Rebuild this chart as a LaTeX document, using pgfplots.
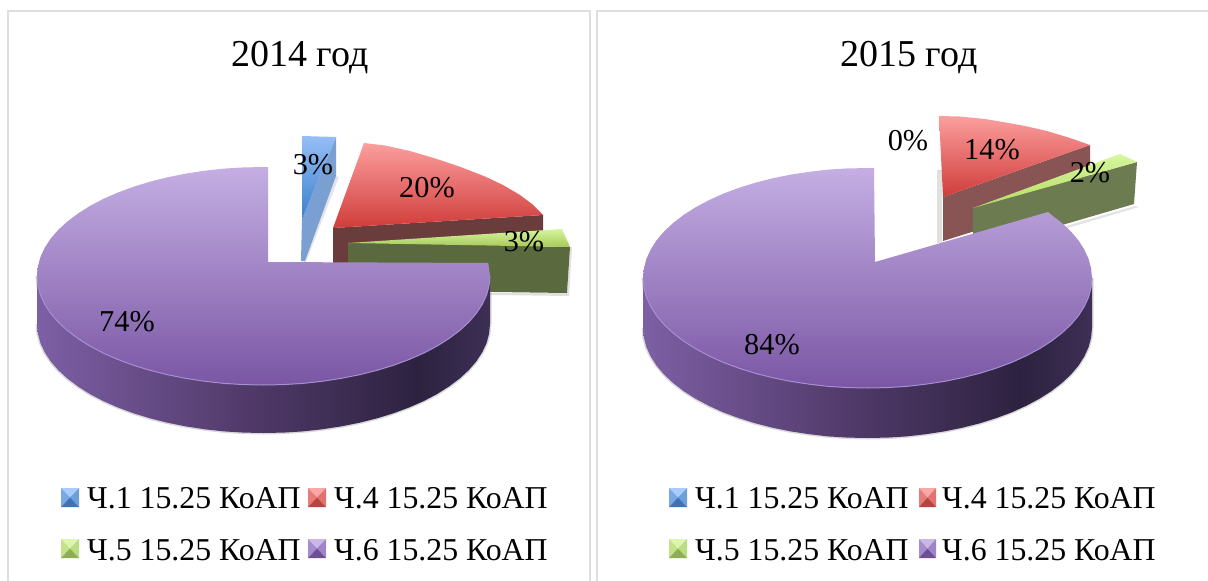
\documentclass[border=0pt]{standalone}
\usepackage{pgfplots}
\usepackage{fontspec}
\pgfplotsset{compat=1.18}
\setmainfont{Liberation Serif}
\definecolor{brd}{HTML}{DEDEDE}
\definecolor{P1}{HTML}{7D5FA5}
\definecolor{P2}{HTML}{513A6A}
\definecolor{P3}{HTML}{2D2240}
\definecolor{P4}{HTML}{3D2F55}
\pgfdeclarehorizontalshading{purpleside}{100bp}{color(0bp)=(P1);color(25bp)=(P1);color(48bp)=(P2);color(67bp)=(P3);color(75bp)=(P4);color(100bp)=(P4)}
\definecolor{redsideA}{RGB}{107,60,60}
\definecolor{redsideB}{RGB}{137,84,84}
\definecolor{redtop}{RGB}{252,158,158}
\definecolor{redbot}{RGB}{208,60,58}
\definecolor{grnsideA}{RGB}{90,106,62}
\definecolor{grnsideB}{RGB}{108,123,80}
\definecolor{grntop}{RGB}{214,246,156}
\definecolor{grnbotA}{RGB}{166,200,90}
\definecolor{grnbotB}{RGB}{180,220,100}
\definecolor{bluside}{RGB}{122,159,211}
\definecolor{blutop}{RGB}{150,190,246}
\definecolor{blubot}{RGB}{58,128,204}
\definecolor{purtop}{RGB}{196,174,227}
\definecolor{purbot}{RGB}{122,86,164}
\definecolor{purline}{RGB}{166,143,208}
\pgfplotstableread{
37 276
37.9 285.5
40.4 295
44.7 304.2
50.6 313.3
58.2 322.1
67.4 330.5
78 338.5
90.0 346.1
103.3 353.1
117.9 359.5
133.6 365.3
150.3 370.4
167.8 374.8
186.0 378.4
204.9 381.3
224.1 383.4
243.7 384.6
263.5 385
283.3 384.6
302.9 383.4
322.1 381.3
341.0 378.4
359.2 374.8
376.8 370.4
393.4 365.3
409.1 359.5
423.7 353.1
437.0 346.1
449 338.5
459.7 330.5
468.8 322.1
476.4 313.3
482.3 304.2
486.6 295
489.1 285.5
490 276
}\frontA
\pgfplotstableread{
37 276
37.9 285.5
40.4 295
44.7 304.2
50.6 313.3
58.2 322.1
67.4 330.5
78 338.5
90.0 346.1
103.3 353.1
117.9 359.5
133.6 365.3
150.3 370.4
167.8 374.8
186.0 378.4
204.9 381.3
224.1 383.4
243.7 384.6
263.5 385
283.3 384.6
302.9 383.4
322.1 381.3
341.0 378.4
359.2 374.8
376.8 370.4
393.4 365.3
409.1 359.5
423.7 353.1
437.0 346.1
449 338.5
459.7 330.5
468.8 322.1
476.4 313.3
482.3 304.2
486.6 295
489.1 285.5
490 276
490 324
489.1 333.5
486.6 343
482.3 352.2
476.4 361.3
468.8 370.1
459.7 378.5
449 386.5
437 394.1
423.7 401.1
409.1 407.5
393.4 413.3
376.8 418.4
359.2 422.8
341 426.4
322.1 429.3
302.9 431.4
283.3 432.6
263.5 433
243.7 432.6
224.1 431.4
204.9 429.3
186 426.4
167.8 422.8
150.3 418.4
133.6 413.3
117.9 407.5
103.3 401.1
90 394.1
78 386.5
67.4 378.5
58.2 370.1
50.6 361.3
44.7 352.2
40.4 343
37.9 333.5
37 324
}\sideA
\pgfplotstableread{
268 262
268 167
243.7 167.4
224.1 168.6
204.9 170.7
186.0 173.6
167.8 177.2
150.3 181.6
133.6 186.7
117.9 192.5
103.3 198.9
90.0 205.9
78 213.5
67.4 221.5
58.2 229.9
50.6 238.7
44.7 247.8
40.4 257.0
37.9 266.5
37 276
37.9 285.5
40.4 295
44.7 304.2
50.6 313.3
58.2 322.1
67.4 330.5
78 338.5
90.0 346.1
103.3 353.1
117.9 359.5
133.6 365.3
150.3 370.4
167.8 374.8
186.0 378.4
204.9 381.3
224.1 383.4
243.7 384.6
263.5 385
283.3 384.6
302.9 383.4
322.1 381.3
341.0 378.4
359.2 374.8
376.8 370.4
393.4 365.3
409.1 359.5
423.7 353.1
437.0 346.1
449 338.5
459.7 330.5
468.8 322.1
476.4 313.3
482.3 304.2
486.6 295
489.1 285.5
490 276
488.3 263
}\topA
\pgfplotstableread{
643 278
643.9 287.6
646.4 297.1
650.7 306.5
656.5 315.6
664 324.5
673.1 333
683.6 341.1
695.5 348.7
708.8 355.8
723.1 362.3
738.7 368.1
755.3 373.3
772.6 377.7
790.7 381.4
809.4 384.2
828.4 386.4
847.9 387.6
867.5 388
887.1 387.6
906.6 386.4
925.6 384.2
944.3 381.4
962.4 377.7
979.8 373.3
996.3 368.1
1011.9 362.3
1026.2 355.8
1039.5 348.7
1051.4 341.1
1061.9 333
1071 324.5
1078.5 315.6
1084.3 306.5
1088.6 297.1
1091.1 287.6
1092 278
}\frontB
\pgfplotstableread{
643 278
643.9 287.6
646.4 297.1
650.7 306.5
656.5 315.6
664 324.5
673.1 333
683.6 341.1
695.5 348.7
708.8 355.8
723.1 362.3
738.7 368.1
755.3 373.3
772.6 377.7
790.7 381.4
809.4 384.2
828.4 386.4
847.9 387.6
867.5 388
887.1 387.6
906.6 386.4
925.6 384.2
944.3 381.4
962.4 377.7
979.8 373.3
996.3 368.1
1011.9 362.3
1026.2 355.8
1039.5 348.7
1051.4 341.1
1061.9 333
1071 324.5
1078.5 315.6
1084.3 306.5
1088.6 297.1
1091.1 287.6
1092 278
1092 328
1091.1 337.6
1088.6 347.1
1084.3 356.5
1078.5 365.6
1071 374.5
1061.9 383
1051.4 391.1
1039.5 398.7
1026.2 405.8
1011.9 412.3
996.3 418.1
979.8 423.3
962.4 427.7
944.3 431.4
925.6 434.2
906.6 436.4
887.1 437.6
867.5 438
847.9 437.6
828.4 436.4
809.4 434.2
790.7 431.4
772.6 427.7
755.3 423.3
738.7 418.1
723.1 412.3
708.8 405.8
695.5 398.7
683.6 391.1
673.1 383
664 374.5
656.5 365.6
650.7 356.5
646.4 347.1
643.9 337.6
643 328
}\sideB
\pgfplotstableread{
875 262
874 168
847.9 168.4
828.4 169.6
809.4 171.8
790.7 174.6
772.6 178.3
755.3 182.7
738.7 187.9
723.1 193.7
708.8 200.2
695.5 207.3
683.6 214.9
673.1 223
664 231.5
656.5 240.4
650.7 249.5
646.4 258.9
643.9 268.4
643 278
643.9 287.6
646.4 297.1
650.7 306.5
656.5 315.6
664 324.5
673.1 333
683.6 341.1
695.5 348.7
708.8 355.8
723.1 362.3
738.7 368.1
755.3 373.3
772.6 377.7
790.7 381.4
809.4 384.2
828.4 386.4
847.9 387.6
867.5 388
887.1 387.6
906.6 386.4
925.6 384.2
944.3 381.4
962.4 377.7
979.8 373.3
996.3 368.1
1011.9 362.3
1026.2 355.8
1039.5 348.7
1051.4 341.1
1061.9 333
1071 324.5
1078.5 315.6
1084.3 306.5
1088.6 297.1
1091.1 287.6
1092 278
1091.1 268.4
1088.6 258.9
1084.3 249.5
1078.5 240.4
1071 231.5
1061.9 223
1051.4 214.9
1048 212
}\topB
% x0 y0 x1 y1  colours: top left right bottom
\newcommand{\bevel}[8]{%
\addplot[draw=none,fill=#5] coordinates {(#1,#2) (#3,#2) ({(#1+#3)/2},{(#2+#4)/2})};
\addplot[draw=none,fill=#6] coordinates {(#1,#2) (#1,#4) ({(#1+#3)/2},{(#2+#4)/2})};
\addplot[draw=none,fill=#7] coordinates {(#3,#2) (#3,#4) ({(#1+#3)/2},{(#2+#4)/2})};
\addplot[draw=none,fill=#8] coordinates {(#1,#4) (#3,#4) ({(#1+#3)/2},{(#2+#4)/2})};
}
\definecolor{bT}{HTML}{A9CDF8}\definecolor{bL}{HTML}{79A9E4}\definecolor{bR}{HTML}{6E9FDB}\definecolor{bB}{HTML}{3F72B2}
\definecolor{rT}{HTML}{F9A8A6}\definecolor{rL}{HTML}{E87B79}\definecolor{rR}{HTML}{E27270}\definecolor{rB}{HTML}{B84341}
\definecolor{gT}{HTML}{DDF5AE}\definecolor{gL}{HTML}{C3E38A}\definecolor{gR}{HTML}{BBDC80}\definecolor{gB}{HTML}{8FAD55}
\definecolor{vT}{HTML}{C9B8E6}\definecolor{vL}{HTML}{A68CCF}\definecolor{vR}{HTML}{9E84C8}\definecolor{vB}{HTML}{6C4F95}
\begin{document}
\begin{tikzpicture}
\begin{axis}[
  hide axis, scale only axis, width=1208pt, height=581pt,
  xmin=0, xmax=1208, ymin=0, ymax=581, y dir=reverse
]
% panel frames
\addplot[draw=brd,line width=2.4pt] coordinates {(8,581) (8,11) (590,11) (590,581)};
\addplot[draw=brd,line width=2.4pt] coordinates {(597,581) (597,11) (1208,11)};

% ---- 2014 ----
% red
\addplot[draw=none,fill=redsideA] coordinates {(333,228) (543,215) (543,263) (333,263)};
\addplot[draw=none,top color=redtop,bottom color=redbot] coordinates {(333,228) (364,143) (385,145.5) (410,151) (437,159) (462,167.5) (485,176.5) (503,185) (520,195) (532,204) (543,215)};
% green
\addplot[draw=none,fill=black!30,opacity=.4] coordinates {(348,293) (569,296) (572,247) (570,247) (567,293)};
\addplot[draw=none,fill=grnsideA] coordinates {(348,243) (570,247) (567,293) (348,290)};
\addplot[draw=none,top color=grntop,bottom color=grnbotA] coordinates {(348,243) (562,229) (570,247)};
% blue
\addplot[draw=none,fill=black!30,opacity=.35] coordinates {(304,262) (306,262) (339,177) (336,176)};
\addplot[draw=none,fill=bluside] coordinates {(302,219) (336,137) (336,176) (305,261) (301,261)};
\addplot[draw=none,top color=blutop,bottom color=blubot] coordinates {(302,136) (336,137) (302,219)};
% purple
\addplot[draw=black!60,line width=3pt,opacity=.25] table {\sideA};
\addplot[draw=none,shading=purpleside] table {\sideA};
\addplot[draw=none,top color=purtop,bottom color=purbot] table {\topA};
\addplot[draw=purline,line width=1pt] table {\frontA};

% ---- 2015 ----
% red
\addplot[draw=none,fill=black!30,opacity=.4] coordinates {(937,170) (937,243) (942,243) (942,170)};
\addplot[draw=none,fill=redsideB] coordinates {(943,197) (1090,145) (1090,195) (943,241)};
\addplot[draw=none,top color=redtop,bottom color=redbot] coordinates {(943,197) (939,116) (960,116.5) (985,119) (1003,122) (1025,126) (1047,131) (1070,138) (1090,145)};
% green
\addplot[draw=none,fill=black!30,opacity=.35] coordinates {(1000,245) (1135,206) (1139,207) (1000,248)};
\addplot[draw=none,fill=grnsideB] coordinates {(973,208) (1137,162) (1134,204) (973,251)};
\addplot[draw=none,top color=grntop,bottom color=grnbotB] coordinates {(973,208) (1120,154) (1137,162)};
% purple
\addplot[draw=black!60,line width=3pt,opacity=.25] table {\sideB};
\addplot[draw=none,shading=purpleside] table {\sideB};
\addplot[draw=none,top color=purtop,bottom color=purbot] table {\topB};
\addplot[draw=purline,line width=1pt] table {\frontB};

% legend icons
\bevel{61}{488}{79}{507}{bT}{bL}{bR}{bB}
\bevel{308}{488}{326}{507}{rT}{rL}{rR}{rB}
\bevel{61}{539}{79}{558}{gT}{gL}{gR}{gB}
\bevel{308}{539}{326}{558}{vT}{vL}{vR}{vB}
\bevel{669}{488}{687}{507}{bT}{bL}{bR}{bB}
\bevel{919}{488}{936}{507}{rT}{rL}{rR}{rB}
\bevel{669}{539}{687}{558}{gT}{gL}{gR}{gB}
\bevel{919}{539}{936}{558}{vT}{vL}{vR}{vB}

% text
\node[font=\fontsize{38}{38}\selectfont] at (axis cs:300,58) {2014 год};
\node[font=\fontsize{38}{38}\selectfont] at (axis cs:909,58) {2015 год};
\node[font=\fontsize{30.3}{30.3}\selectfont] at (axis cs:313,165) {3\%};
\node[font=\fontsize{30.3}{30.3}\selectfont] at (axis cs:427,188) {20\%};
\node[font=\fontsize{30.3}{30.3}\selectfont] at (axis cs:524,242) {3\%};
\node[font=\fontsize{30.3}{30.3}\selectfont] at (axis cs:127,322) {74\%};
\node[font=\fontsize{30.3}{30.3}\selectfont] at (axis cs:908,141) {0\%};
\node[font=\fontsize{30.3}{30.3}\selectfont] at (axis cs:992,150) {14\%};
\node[font=\fontsize{30.3}{30.3}\selectfont] at (axis cs:1090,173) {2\%};
\node[font=\fontsize{30.3}{30.3}\selectfont] at (axis cs:772,345) {84\%};
\node[font=\fontsize{31.8}{31.8}\selectfont,anchor=west,inner sep=0pt] at (axis cs:87,498) {Ч.1 15.25 КоАП};
\node[font=\fontsize{31.8}{31.8}\selectfont,anchor=west,inner sep=0pt] at (axis cs:334,498) {Ч.4 15.25 КоАП};
\node[font=\fontsize{31.8}{31.8}\selectfont,anchor=west,inner sep=0pt] at (axis cs:87,550) {Ч.5 15.25 КоАП};
\node[font=\fontsize{31.8}{31.8}\selectfont,anchor=west,inner sep=0pt] at (axis cs:334,550) {Ч.6 15.25 КоАП};
\node[font=\fontsize{31.8}{31.8}\selectfont,anchor=west,inner sep=0pt] at (axis cs:695,498) {Ч.1 15.25 КоАП};
\node[font=\fontsize{31.8}{31.8}\selectfont,anchor=west,inner sep=0pt] at (axis cs:942,498) {Ч.4 15.25 КоАП};
\node[font=\fontsize{31.8}{31.8}\selectfont,anchor=west,inner sep=0pt] at (axis cs:695,550) {Ч.5 15.25 КоАП};
\node[font=\fontsize{31.8}{31.8}\selectfont,anchor=west,inner sep=0pt] at (axis cs:942,550) {Ч.6 15.25 КоАП};
\end{axis}
\pgfresetboundingbox
\useasboundingbox (0,0) rectangle (1208pt,581pt);
\end{tikzpicture}
\end{document}
